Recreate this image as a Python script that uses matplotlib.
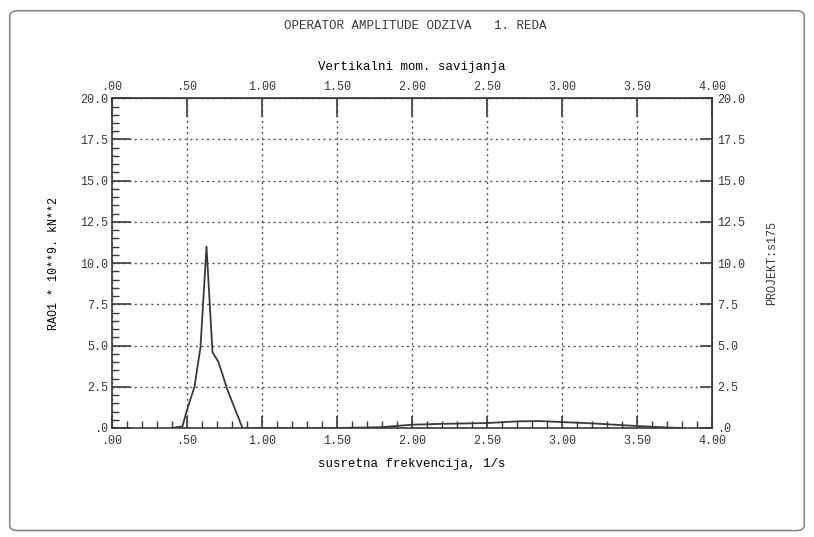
import matplotlib
matplotlib.use("Agg")
import matplotlib.pyplot as plt
from matplotlib.patches import FancyBboxPatch
from matplotlib.ticker import MultipleLocator, FuncFormatter

# encounter frequency (1/s) and RAO values
freq = [0.40, 0.47, 0.50, 0.55, 0.59, 0.63, 0.67, 0.71, 0.77, 0.87,
        1.00, 1.50, 1.80, 2.00, 2.20, 2.50, 2.70, 2.85, 3.00, 3.20,
        3.50, 3.70, 3.80]
rao = [0.0, 0.1, 1.1, 2.5, 4.9, 11.0, 4.6, 4.0, 2.3, 0.0,
       0.0, 0.0, 0.05, 0.2, 0.25, 0.3, 0.4, 0.42, 0.36, 0.28,
       0.12, 0.03, 0.0]

x_ticks = [0.0, 0.5, 1.0, 1.5, 2.0, 2.5, 3.0, 3.5, 4.0]
y_ticks = [0.0, 2.5, 5.0, 7.5, 10.0, 12.5, 15.0, 17.5, 20.0]

INK = "#3a3a3a"
plt.rcParams["font.family"] = ["Liberation Mono", "DejaVu Sans Mono"]
plt.rcParams["text.color"] = INK
plt.rcParams["axes.edgecolor"] = INK
plt.rcParams["xtick.color"] = INK
plt.rcParams["ytick.color"] = INK


def fmt_x(v, _):
    s = f"{v:.2f}"
    return s[1:] if s.startswith("0") else s


def fmt_y(v, _):
    s = f"{v:.1f}"
    return s[1:] if s.startswith("0") else s


fig = plt.figure(figsize=(8.14, 5.37), dpi=100)

# page frame
frame = FancyBboxPatch((0.012, 0.012), 0.976, 0.968,
                       boxstyle="round,pad=0,rounding_size=0.01",
                       transform=fig.transFigure, fill=False,
                       edgecolor="#8a8a8a", linewidth=1.2)
fig.patches.append(frame)

ax = fig.add_axes([0.1376, 0.203, 0.737, 0.614])
ax.plot(freq, rao, color=INK, linewidth=1.3)

ax.set_xlim(0, 4)
ax.set_ylim(0, 20)
ax.set_xticks(x_ticks)
ax.set_yticks(y_ticks)
ax.xaxis.set_minor_locator(MultipleLocator(0.1))
ax.yaxis.set_minor_locator(MultipleLocator(0.5))
ax.xaxis.set_major_formatter(FuncFormatter(fmt_x))
ax.yaxis.set_major_formatter(FuncFormatter(fmt_y))
ax.tick_params(axis="both", which="major", direction="in", labelsize=8.5,
               width=1.2)
ax.tick_params(axis="x", which="major", length=9, pad=5)
ax.tick_params(axis="y", which="major", length=14, pad=3)
ax.tick_params(axis="both", which="minor", direction="in", length=5,
               width=1.0)
ax.grid(True, which="major", linestyle=(0, (1.5, 2.5)), color="#555555",
        linewidth=1.0)
for sp in ax.spines.values():
    sp.set_linewidth(1.2)

# top axis
top = ax.secondary_xaxis("top")
top.set_xticks(x_ticks)
top.xaxis.set_major_formatter(FuncFormatter(fmt_x))
top.tick_params(direction="in", length=14, width=1.2, labelsize=8.5, pad=4)
top.set_xlabel("Vertikalni mom. savijanja", fontsize=9, labelpad=8)

# right axis
right = ax.secondary_yaxis("right")
right.set_yticks(y_ticks)
right.yaxis.set_major_formatter(FuncFormatter(fmt_y))
right.tick_params(direction="in", length=9, width=1.2, labelsize=8.5, pad=4)

ax.set_xlabel("susretna frekvencija, 1/s", fontsize=9, labelpad=8)
ax.set_ylabel("RAO1 * 10**9. kN**2", fontsize=8.5, labelpad=14)

fig.text(0.51, 0.951, "OPERATOR AMPLITUDE ODZIVA   1. REDA",
         ha="center", va="center", fontsize=9)
fig.text(0.948, 0.51, "PROJEKT:s175", rotation=90,
         ha="center", va="center", fontsize=8.5)

fig.savefig("out.png", dpi=100)
